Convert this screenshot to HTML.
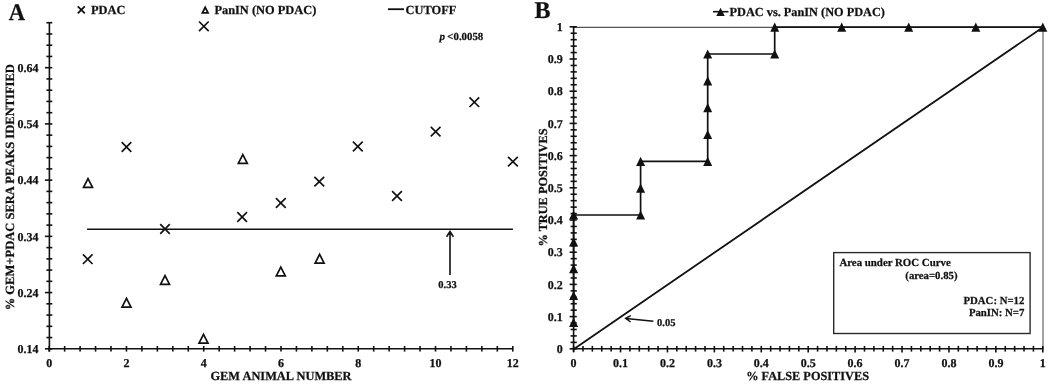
<!DOCTYPE html>
<html><head><meta charset="utf-8"><style>
html,body{margin:0;padding:0;background:#fff;}
body{width:1050px;height:386px;overflow:hidden;}
svg{display:block;will-change:transform;}
text{text-rendering:geometricPrecision;font-family:"Liberation Serif",serif;font-weight:bold;fill:#111;stroke:#111;stroke-width:0.25px;}
.big{font-size:24px;text-rendering:geometricPrecision;}
.tl{font-size:12px;}
.sm{font-size:10.5px;}
.bx{font-size:10.75px;}
.lg{font-size:12.4px;}
.at{font-size:12.4px;}
.yt{font-size:12.55px;}
.tt{font-size:12.3px;}
.pv{font-size:11px;}
</style></head><body>
<svg width="1050" height="386" viewBox="0 0 1050 386">
<rect width="1050" height="386" fill="#fff"/>
<text transform="translate(17,19.7) scale(0.94,1.0)" text-anchor="middle" class="big">A</text>
<text x="534.5" y="17.6" class="big">B</text>
<g stroke="#111" stroke-width="1.6" fill="none">
<line x1="49.400000000000006" y1="22.7" x2="49.400000000000006" y2="351.8"/>
<line x1="48.2" y1="348.8" x2="513.2600000000001" y2="348.8"/>
<line x1="44.9" y1="348.80" x2="52.3" y2="348.80" stroke-width="1.6"/>
<line x1="46.4" y1="337.56" x2="52.3" y2="337.56" stroke-width="1.6"/>
<line x1="46.4" y1="326.31" x2="52.3" y2="326.31" stroke-width="1.6"/>
<line x1="46.4" y1="315.07" x2="52.3" y2="315.07" stroke-width="1.6"/>
<line x1="46.4" y1="303.82" x2="52.3" y2="303.82" stroke-width="1.6"/>
<line x1="44.9" y1="292.58" x2="52.3" y2="292.58" stroke-width="1.6"/>
<line x1="46.4" y1="281.34" x2="52.3" y2="281.34" stroke-width="1.6"/>
<line x1="46.4" y1="270.09" x2="52.3" y2="270.09" stroke-width="1.6"/>
<line x1="46.4" y1="258.85" x2="52.3" y2="258.85" stroke-width="1.6"/>
<line x1="46.4" y1="247.60" x2="52.3" y2="247.60" stroke-width="1.6"/>
<line x1="44.9" y1="236.36" x2="52.3" y2="236.36" stroke-width="1.6"/>
<line x1="46.4" y1="225.12" x2="52.3" y2="225.12" stroke-width="1.6"/>
<line x1="46.4" y1="213.87" x2="52.3" y2="213.87" stroke-width="1.6"/>
<line x1="46.4" y1="202.63" x2="52.3" y2="202.63" stroke-width="1.6"/>
<line x1="46.4" y1="191.38" x2="52.3" y2="191.38" stroke-width="1.6"/>
<line x1="44.9" y1="180.14" x2="52.3" y2="180.14" stroke-width="1.6"/>
<line x1="46.4" y1="168.90" x2="52.3" y2="168.90" stroke-width="1.6"/>
<line x1="46.4" y1="157.65" x2="52.3" y2="157.65" stroke-width="1.6"/>
<line x1="46.4" y1="146.41" x2="52.3" y2="146.41" stroke-width="1.6"/>
<line x1="46.4" y1="135.16" x2="52.3" y2="135.16" stroke-width="1.6"/>
<line x1="44.9" y1="123.92" x2="52.3" y2="123.92" stroke-width="1.6"/>
<line x1="46.4" y1="112.68" x2="52.3" y2="112.68" stroke-width="1.6"/>
<line x1="46.4" y1="101.43" x2="52.3" y2="101.43" stroke-width="1.6"/>
<line x1="46.4" y1="90.19" x2="52.3" y2="90.19" stroke-width="1.6"/>
<line x1="46.4" y1="78.94" x2="52.3" y2="78.94" stroke-width="1.6"/>
<line x1="44.9" y1="67.70" x2="52.3" y2="67.70" stroke-width="1.6"/>
<line x1="46.4" y1="56.46" x2="52.3" y2="56.46" stroke-width="1.6"/>
<line x1="46.4" y1="45.21" x2="52.3" y2="45.21" stroke-width="1.6"/>
<line x1="46.4" y1="33.97" x2="52.3" y2="33.97" stroke-width="1.6"/>
<line x1="46.4" y1="22.72" x2="52.3" y2="22.72" stroke-width="1.6"/>
<line x1="49.20" y1="346.0" x2="49.20" y2="351.6" stroke-width="1.6"/>
<line x1="64.65" y1="346.0" x2="64.65" y2="351.6" stroke-width="1.6"/>
<line x1="80.10" y1="346.0" x2="80.10" y2="351.6" stroke-width="1.6"/>
<line x1="95.56" y1="346.0" x2="95.56" y2="351.6" stroke-width="1.6"/>
<line x1="111.01" y1="346.0" x2="111.01" y2="351.6" stroke-width="1.6"/>
<line x1="126.46" y1="346.0" x2="126.46" y2="351.6" stroke-width="1.6"/>
<line x1="141.91" y1="346.0" x2="141.91" y2="351.6" stroke-width="1.6"/>
<line x1="157.36" y1="346.0" x2="157.36" y2="351.6" stroke-width="1.6"/>
<line x1="172.82" y1="346.0" x2="172.82" y2="351.6" stroke-width="1.6"/>
<line x1="188.27" y1="346.0" x2="188.27" y2="351.6" stroke-width="1.6"/>
<line x1="203.72" y1="346.0" x2="203.72" y2="351.6" stroke-width="1.6"/>
<line x1="219.17" y1="346.0" x2="219.17" y2="351.6" stroke-width="1.6"/>
<line x1="234.62" y1="346.0" x2="234.62" y2="351.6" stroke-width="1.6"/>
<line x1="250.08" y1="346.0" x2="250.08" y2="351.6" stroke-width="1.6"/>
<line x1="265.53" y1="346.0" x2="265.53" y2="351.6" stroke-width="1.6"/>
<line x1="280.98" y1="346.0" x2="280.98" y2="351.6" stroke-width="1.6"/>
<line x1="296.43" y1="346.0" x2="296.43" y2="351.6" stroke-width="1.6"/>
<line x1="311.88" y1="346.0" x2="311.88" y2="351.6" stroke-width="1.6"/>
<line x1="327.34" y1="346.0" x2="327.34" y2="351.6" stroke-width="1.6"/>
<line x1="342.79" y1="346.0" x2="342.79" y2="351.6" stroke-width="1.6"/>
<line x1="358.24" y1="346.0" x2="358.24" y2="351.6" stroke-width="1.6"/>
<line x1="373.69" y1="346.0" x2="373.69" y2="351.6" stroke-width="1.6"/>
<line x1="389.14" y1="346.0" x2="389.14" y2="351.6" stroke-width="1.6"/>
<line x1="404.60" y1="346.0" x2="404.60" y2="351.6" stroke-width="1.6"/>
<line x1="420.05" y1="346.0" x2="420.05" y2="351.6" stroke-width="1.6"/>
<line x1="435.50" y1="346.0" x2="435.50" y2="351.6" stroke-width="1.6"/>
<line x1="450.95" y1="346.0" x2="450.95" y2="351.6" stroke-width="1.6"/>
<line x1="466.40" y1="346.0" x2="466.40" y2="351.6" stroke-width="1.6"/>
<line x1="481.86" y1="346.0" x2="481.86" y2="351.6" stroke-width="1.6"/>
<line x1="497.31" y1="346.0" x2="497.31" y2="351.6" stroke-width="1.6"/>
<line x1="512.76" y1="346.0" x2="512.76" y2="351.6" stroke-width="1.6"/>
</g>
<text x="38.4" y="353.0" class="tl" text-anchor="end">0.14</text>
<text x="38.4" y="296.8" class="tl" text-anchor="end">0.24</text>
<text x="38.4" y="240.6" class="tl" text-anchor="end">0.34</text>
<text x="38.4" y="184.3" class="tl" text-anchor="end">0.44</text>
<text x="38.4" y="128.1" class="tl" text-anchor="end">0.54</text>
<text x="38.4" y="71.9" class="tl" text-anchor="end">0.64</text>
<text x="49.2" y="367.1" class="tl" text-anchor="middle">0</text>
<text x="126.5" y="367.1" class="tl" text-anchor="middle">2</text>
<text x="203.7" y="367.1" class="tl" text-anchor="middle">4</text>
<text x="281.0" y="367.1" class="tl" text-anchor="middle">6</text>
<text x="358.2" y="367.1" class="tl" text-anchor="middle">8</text>
<text x="435.5" y="367.1" class="tl" text-anchor="middle">10</text>
<text x="512.8" y="367.1" class="tl" text-anchor="middle">12</text>
<text x="281" y="379.5" class="at" text-anchor="middle">GEM ANIMAL NUMBER</text>
<text transform="translate(13.5,187.2) rotate(-90)" class="yt" text-anchor="middle">% GEM+PDAC SERA PEAKS IDENTIFIED</text>
<path d="M77.8 6.4L84.8 13.4M84.8 6.4L77.8 13.4" stroke="#111" stroke-width="1.8" fill="none"/>
<text x="91" y="14.2" class="lg">PDAC</text>
<path d="M205.2 7.3L208.0 12.8L202.4 12.8Z" stroke="#111" stroke-width="1.8" fill="none" stroke-linejoin="miter"/>
<text x="214.4" y="14.2" class="lg">PanIN (NO PDAC)</text>
<line x1="388" y1="9.2" x2="404" y2="9.2" stroke="#111" stroke-width="1.8"/>
<text x="405.6" y="13.9" class="lg">CUTOFF</text>
<text x="439.6" y="40.4" class="pv" font-style="italic">p</text>
<text x="483.2" y="40.4" class="pv" style="font-size:10.8px" text-anchor="end">&lt;0.0058</text>
<line x1="87.1" y1="229.2" x2="512.9" y2="229.2" stroke="#111" stroke-width="1.6"/>
<path d="M450 275V231.5M446.6 236.8L450 231.5L453.4 236.8" stroke="#111" stroke-width="1.6" fill="none"/>
<text x="447.5" y="288" class="sm" text-anchor="middle">0.33</text>
<path d="M82.9 254.3L92.5 264.0M92.5 254.3L82.9 264.0" stroke="#111" stroke-width="1.65" fill="none"/>
<path d="M121.7 142.2L131.3 151.9M131.3 142.2L121.7 151.9" stroke="#111" stroke-width="1.65" fill="none"/>
<path d="M160.2 224.2L169.8 233.8M169.8 224.2L160.2 233.8" stroke="#111" stroke-width="1.65" fill="none"/>
<path d="M199.0 21.5L208.7 31.2M208.7 21.5L199.0 31.2" stroke="#111" stroke-width="1.65" fill="none"/>
<path d="M237.3 212.2L247.0 221.8M247.0 212.2L237.3 221.8" stroke="#111" stroke-width="1.65" fill="none"/>
<path d="M275.9 198.2L285.7 207.8M285.7 198.2L275.9 207.8" stroke="#111" stroke-width="1.65" fill="none"/>
<path d="M314.4 176.8L324.2 186.4M324.2 176.8L314.4 186.4" stroke="#111" stroke-width="1.65" fill="none"/>
<path d="M352.9 141.7L362.7 151.3M362.7 141.7L352.9 151.3" stroke="#111" stroke-width="1.65" fill="none"/>
<path d="M392.1 191.2L401.9 200.9M401.9 191.2L392.1 200.9" stroke="#111" stroke-width="1.65" fill="none"/>
<path d="M430.8 126.8L440.5 136.4M440.5 126.8L430.8 136.4" stroke="#111" stroke-width="1.65" fill="none"/>
<path d="M469.5 97.4L479.2 107.0M479.2 97.4L469.5 107.0" stroke="#111" stroke-width="1.65" fill="none"/>
<path d="M508.0 156.8L517.8 166.4M517.8 156.8L508.0 166.4" stroke="#111" stroke-width="1.65" fill="none"/>
<path d="M88.0 178.6L92.5 187.4L83.5 187.4Z" stroke="#111" stroke-width="1.7" fill="none" stroke-linejoin="miter"/>
<path d="M126.5 298.4L131.0 307.2L122.0 307.2Z" stroke="#111" stroke-width="1.7" fill="none" stroke-linejoin="miter"/>
<path d="M165.0 275.6L169.5 284.4L160.5 284.4Z" stroke="#111" stroke-width="1.7" fill="none" stroke-linejoin="miter"/>
<path d="M203.5 334.3L208.0 343.1L199.0 343.1Z" stroke="#111" stroke-width="1.7" fill="none" stroke-linejoin="miter"/>
<path d="M242.8 154.6L247.3 163.4L238.3 163.4Z" stroke="#111" stroke-width="1.7" fill="none" stroke-linejoin="miter"/>
<path d="M280.8 267.1L285.3 275.9L276.3 275.9Z" stroke="#111" stroke-width="1.7" fill="none" stroke-linejoin="miter"/>
<path d="M319.6 254.3L324.1 263.1L315.1 263.1Z" stroke="#111" stroke-width="1.7" fill="none" stroke-linejoin="miter"/>
<line x1="573.6" y1="27.3" x2="1043.5" y2="27.3" stroke="#555" stroke-width="1.3"/>
<line x1="1043" y1="27.3" x2="1043" y2="348.8" stroke="#999" stroke-width="1.8"/>
<g stroke="#111" stroke-width="1.6" fill="none">
<line x1="573.6" y1="26.5" x2="573.6" y2="351.8"/>
<line x1="572.6" y1="348.8" x2="1043.3" y2="348.8"/>
<line x1="569.6" y1="348.80" x2="576.8" y2="348.80" stroke-width="1.6"/>
<line x1="573.60" y1="345.9" x2="573.60" y2="352.4" stroke-width="1.6"/>
<line x1="570.6" y1="342.36" x2="576.8" y2="342.36" stroke-width="1.6"/>
<line x1="582.98" y1="345.9" x2="582.98" y2="351.6" stroke-width="1.6"/>
<line x1="570.6" y1="335.92" x2="576.8" y2="335.92" stroke-width="1.6"/>
<line x1="592.37" y1="345.9" x2="592.37" y2="351.6" stroke-width="1.6"/>
<line x1="570.6" y1="329.48" x2="576.8" y2="329.48" stroke-width="1.6"/>
<line x1="601.75" y1="345.9" x2="601.75" y2="351.6" stroke-width="1.6"/>
<line x1="570.6" y1="323.04" x2="576.8" y2="323.04" stroke-width="1.6"/>
<line x1="611.14" y1="345.9" x2="611.14" y2="351.6" stroke-width="1.6"/>
<line x1="569.6" y1="316.60" x2="576.8" y2="316.60" stroke-width="1.6"/>
<line x1="620.52" y1="345.9" x2="620.52" y2="352.4" stroke-width="1.6"/>
<line x1="570.6" y1="310.16" x2="576.8" y2="310.16" stroke-width="1.6"/>
<line x1="629.90" y1="345.9" x2="629.90" y2="351.6" stroke-width="1.6"/>
<line x1="570.6" y1="303.72" x2="576.8" y2="303.72" stroke-width="1.6"/>
<line x1="639.29" y1="345.9" x2="639.29" y2="351.6" stroke-width="1.6"/>
<line x1="570.6" y1="297.28" x2="576.8" y2="297.28" stroke-width="1.6"/>
<line x1="648.67" y1="345.9" x2="648.67" y2="351.6" stroke-width="1.6"/>
<line x1="570.6" y1="290.84" x2="576.8" y2="290.84" stroke-width="1.6"/>
<line x1="658.06" y1="345.9" x2="658.06" y2="351.6" stroke-width="1.6"/>
<line x1="569.6" y1="284.40" x2="576.8" y2="284.40" stroke-width="1.6"/>
<line x1="667.44" y1="345.9" x2="667.44" y2="352.4" stroke-width="1.6"/>
<line x1="570.6" y1="277.96" x2="576.8" y2="277.96" stroke-width="1.6"/>
<line x1="676.82" y1="345.9" x2="676.82" y2="351.6" stroke-width="1.6"/>
<line x1="570.6" y1="271.52" x2="576.8" y2="271.52" stroke-width="1.6"/>
<line x1="686.21" y1="345.9" x2="686.21" y2="351.6" stroke-width="1.6"/>
<line x1="570.6" y1="265.08" x2="576.8" y2="265.08" stroke-width="1.6"/>
<line x1="695.59" y1="345.9" x2="695.59" y2="351.6" stroke-width="1.6"/>
<line x1="570.6" y1="258.64" x2="576.8" y2="258.64" stroke-width="1.6"/>
<line x1="704.98" y1="345.9" x2="704.98" y2="351.6" stroke-width="1.6"/>
<line x1="569.6" y1="252.20" x2="576.8" y2="252.20" stroke-width="1.6"/>
<line x1="714.36" y1="345.9" x2="714.36" y2="352.4" stroke-width="1.6"/>
<line x1="570.6" y1="245.76" x2="576.8" y2="245.76" stroke-width="1.6"/>
<line x1="723.74" y1="345.9" x2="723.74" y2="351.6" stroke-width="1.6"/>
<line x1="570.6" y1="239.32" x2="576.8" y2="239.32" stroke-width="1.6"/>
<line x1="733.13" y1="345.9" x2="733.13" y2="351.6" stroke-width="1.6"/>
<line x1="570.6" y1="232.88" x2="576.8" y2="232.88" stroke-width="1.6"/>
<line x1="742.51" y1="345.9" x2="742.51" y2="351.6" stroke-width="1.6"/>
<line x1="570.6" y1="226.44" x2="576.8" y2="226.44" stroke-width="1.6"/>
<line x1="751.90" y1="345.9" x2="751.90" y2="351.6" stroke-width="1.6"/>
<line x1="569.6" y1="220.00" x2="576.8" y2="220.00" stroke-width="1.6"/>
<line x1="761.28" y1="345.9" x2="761.28" y2="352.4" stroke-width="1.6"/>
<line x1="570.6" y1="213.56" x2="576.8" y2="213.56" stroke-width="1.6"/>
<line x1="770.66" y1="345.9" x2="770.66" y2="351.6" stroke-width="1.6"/>
<line x1="570.6" y1="207.12" x2="576.8" y2="207.12" stroke-width="1.6"/>
<line x1="780.05" y1="345.9" x2="780.05" y2="351.6" stroke-width="1.6"/>
<line x1="570.6" y1="200.68" x2="576.8" y2="200.68" stroke-width="1.6"/>
<line x1="789.43" y1="345.9" x2="789.43" y2="351.6" stroke-width="1.6"/>
<line x1="570.6" y1="194.24" x2="576.8" y2="194.24" stroke-width="1.6"/>
<line x1="798.82" y1="345.9" x2="798.82" y2="351.6" stroke-width="1.6"/>
<line x1="569.6" y1="187.80" x2="576.8" y2="187.80" stroke-width="1.6"/>
<line x1="808.20" y1="345.9" x2="808.20" y2="352.4" stroke-width="1.6"/>
<line x1="570.6" y1="181.36" x2="576.8" y2="181.36" stroke-width="1.6"/>
<line x1="817.58" y1="345.9" x2="817.58" y2="351.6" stroke-width="1.6"/>
<line x1="570.6" y1="174.92" x2="576.8" y2="174.92" stroke-width="1.6"/>
<line x1="826.97" y1="345.9" x2="826.97" y2="351.6" stroke-width="1.6"/>
<line x1="570.6" y1="168.48" x2="576.8" y2="168.48" stroke-width="1.6"/>
<line x1="836.35" y1="345.9" x2="836.35" y2="351.6" stroke-width="1.6"/>
<line x1="570.6" y1="162.04" x2="576.8" y2="162.04" stroke-width="1.6"/>
<line x1="845.74" y1="345.9" x2="845.74" y2="351.6" stroke-width="1.6"/>
<line x1="569.6" y1="155.60" x2="576.8" y2="155.60" stroke-width="1.6"/>
<line x1="855.12" y1="345.9" x2="855.12" y2="352.4" stroke-width="1.6"/>
<line x1="570.6" y1="149.16" x2="576.8" y2="149.16" stroke-width="1.6"/>
<line x1="864.50" y1="345.9" x2="864.50" y2="351.6" stroke-width="1.6"/>
<line x1="570.6" y1="142.72" x2="576.8" y2="142.72" stroke-width="1.6"/>
<line x1="873.89" y1="345.9" x2="873.89" y2="351.6" stroke-width="1.6"/>
<line x1="570.6" y1="136.28" x2="576.8" y2="136.28" stroke-width="1.6"/>
<line x1="883.27" y1="345.9" x2="883.27" y2="351.6" stroke-width="1.6"/>
<line x1="570.6" y1="129.84" x2="576.8" y2="129.84" stroke-width="1.6"/>
<line x1="892.66" y1="345.9" x2="892.66" y2="351.6" stroke-width="1.6"/>
<line x1="569.6" y1="123.40" x2="576.8" y2="123.40" stroke-width="1.6"/>
<line x1="902.04" y1="345.9" x2="902.04" y2="352.4" stroke-width="1.6"/>
<line x1="570.6" y1="116.96" x2="576.8" y2="116.96" stroke-width="1.6"/>
<line x1="911.42" y1="345.9" x2="911.42" y2="351.6" stroke-width="1.6"/>
<line x1="570.6" y1="110.52" x2="576.8" y2="110.52" stroke-width="1.6"/>
<line x1="920.81" y1="345.9" x2="920.81" y2="351.6" stroke-width="1.6"/>
<line x1="570.6" y1="104.08" x2="576.8" y2="104.08" stroke-width="1.6"/>
<line x1="930.19" y1="345.9" x2="930.19" y2="351.6" stroke-width="1.6"/>
<line x1="570.6" y1="97.64" x2="576.8" y2="97.64" stroke-width="1.6"/>
<line x1="939.58" y1="345.9" x2="939.58" y2="351.6" stroke-width="1.6"/>
<line x1="569.6" y1="91.20" x2="576.8" y2="91.20" stroke-width="1.6"/>
<line x1="948.96" y1="345.9" x2="948.96" y2="352.4" stroke-width="1.6"/>
<line x1="570.6" y1="84.76" x2="576.8" y2="84.76" stroke-width="1.6"/>
<line x1="958.34" y1="345.9" x2="958.34" y2="351.6" stroke-width="1.6"/>
<line x1="570.6" y1="78.32" x2="576.8" y2="78.32" stroke-width="1.6"/>
<line x1="967.73" y1="345.9" x2="967.73" y2="351.6" stroke-width="1.6"/>
<line x1="570.6" y1="71.88" x2="576.8" y2="71.88" stroke-width="1.6"/>
<line x1="977.11" y1="345.9" x2="977.11" y2="351.6" stroke-width="1.6"/>
<line x1="570.6" y1="65.44" x2="576.8" y2="65.44" stroke-width="1.6"/>
<line x1="986.50" y1="345.9" x2="986.50" y2="351.6" stroke-width="1.6"/>
<line x1="569.6" y1="59.00" x2="576.8" y2="59.00" stroke-width="1.6"/>
<line x1="995.88" y1="345.9" x2="995.88" y2="352.4" stroke-width="1.6"/>
<line x1="570.6" y1="52.56" x2="576.8" y2="52.56" stroke-width="1.6"/>
<line x1="1005.26" y1="345.9" x2="1005.26" y2="351.6" stroke-width="1.6"/>
<line x1="570.6" y1="46.12" x2="576.8" y2="46.12" stroke-width="1.6"/>
<line x1="1014.65" y1="345.9" x2="1014.65" y2="351.6" stroke-width="1.6"/>
<line x1="570.6" y1="39.68" x2="576.8" y2="39.68" stroke-width="1.6"/>
<line x1="1024.03" y1="345.9" x2="1024.03" y2="351.6" stroke-width="1.6"/>
<line x1="570.6" y1="33.24" x2="576.8" y2="33.24" stroke-width="1.6"/>
<line x1="1033.42" y1="345.9" x2="1033.42" y2="351.6" stroke-width="1.6"/>
<line x1="569.6" y1="26.80" x2="576.8" y2="26.80" stroke-width="1.6"/>
<line x1="1042.80" y1="345.9" x2="1042.80" y2="352.4" stroke-width="1.6"/>
</g>
<text x="562.8" y="353.0" class="tl" text-anchor="end">0</text>
<text x="573.6" y="367.4" class="tl" text-anchor="middle">0</text>
<text x="562.8" y="320.8" class="tl" text-anchor="end">0.1</text>
<text x="620.5" y="367.4" class="tl" text-anchor="middle">0.1</text>
<text x="562.8" y="288.6" class="tl" text-anchor="end">0.2</text>
<text x="667.4" y="367.4" class="tl" text-anchor="middle">0.2</text>
<text x="562.8" y="256.4" class="tl" text-anchor="end">0.3</text>
<text x="714.4" y="367.4" class="tl" text-anchor="middle">0.3</text>
<text x="562.8" y="224.2" class="tl" text-anchor="end">0.4</text>
<text x="761.3" y="367.4" class="tl" text-anchor="middle">0.4</text>
<text x="562.8" y="192.0" class="tl" text-anchor="end">0.5</text>
<text x="808.2" y="367.4" class="tl" text-anchor="middle">0.5</text>
<text x="562.8" y="159.8" class="tl" text-anchor="end">0.6</text>
<text x="855.1" y="367.4" class="tl" text-anchor="middle">0.6</text>
<text x="562.8" y="127.6" class="tl" text-anchor="end">0.7</text>
<text x="902.0" y="367.4" class="tl" text-anchor="middle">0.7</text>
<text x="562.8" y="95.4" class="tl" text-anchor="end">0.8</text>
<text x="949.0" y="367.4" class="tl" text-anchor="middle">0.8</text>
<text x="562.8" y="63.2" class="tl" text-anchor="end">0.9</text>
<text x="995.9" y="367.4" class="tl" text-anchor="middle">0.9</text>
<text x="562.8" y="31.0" class="tl" text-anchor="end">1</text>
<text x="1042.8" y="367.4" class="tl" text-anchor="middle">1</text>
<text x="807.6" y="379.6" class="at" style="font-size:12.3px" text-anchor="middle">% FALSE POSITIVES</text>
<text transform="translate(547,187.5) rotate(-90)" class="tt" text-anchor="middle">% TRUE POSITIVES</text>
<line x1="573.6" y1="349.2" x2="1043" y2="27.2" stroke="#111" stroke-width="1.8"/>
<path d="M653.4 321.2L626 318.5M630.8 315.6L625.6 318.4L630.6 322" stroke="#111" stroke-width="1.45" fill="none"/>
<text x="657" y="325.9" class="sm">0.05</text>
<path d="M573.6 322.4L573.6 295.5L573.6 268.7L573.6 241.9L573.6 215.0L640.6 215.0L640.6 188.2L640.6 161.4L707.7 161.4L707.7 134.5L707.7 107.7L707.7 80.9L707.7 54.0L774.7 54.0L774.7 27.2L841.7 27.2L908.7 27.2L975.8 27.2L1042.8 27.2" stroke="#111" stroke-width="1.7" fill="none"/>
<path d="M573.6 317.8L578.1 327.0L569.1 327.0Z" fill="#111"/>
<path d="M573.6 290.9L578.1 300.1L569.1 300.1Z" fill="#111"/>
<path d="M573.6 264.1L578.1 273.3L569.1 273.3Z" fill="#111"/>
<path d="M573.6 237.3L578.1 246.5L569.1 246.5Z" fill="#111"/>
<path d="M573.6 210.4L578.1 219.6L569.1 219.6Z" fill="#111"/>
<path d="M640.6 210.4L645.1 219.6L636.1 219.6Z" fill="#111"/>
<path d="M640.6 183.6L645.1 192.8L636.1 192.8Z" fill="#111"/>
<path d="M640.6 156.8L645.1 166.0L636.1 166.0Z" fill="#111"/>
<path d="M707.7 156.8L712.2 166.0L703.2 166.0Z" fill="#111"/>
<path d="M707.7 129.9L712.2 139.1L703.2 139.1Z" fill="#111"/>
<path d="M707.7 103.1L712.2 112.3L703.2 112.3Z" fill="#111"/>
<path d="M707.7 76.3L712.2 85.5L703.2 85.5Z" fill="#111"/>
<path d="M707.7 49.4L712.2 58.6L703.2 58.6Z" fill="#111"/>
<path d="M774.7 49.4L779.2 58.6L770.2 58.6Z" fill="#111"/>
<path d="M774.7 22.6L779.2 31.8L770.2 31.8Z" fill="#111"/>
<path d="M841.7 22.6L846.2 31.8L837.2 31.8Z" fill="#111"/>
<path d="M908.7 22.6L913.2 31.8L904.2 31.8Z" fill="#111"/>
<path d="M975.8 22.6L980.3 31.8L971.3 31.8Z" fill="#111"/>
<path d="M1042.8 22.6L1047.3 31.8L1038.3 31.8Z" fill="#111"/>
<line x1="713" y1="11.7" x2="728.5" y2="11.7" stroke="#111" stroke-width="1.6"/>
<path d="M720.5 7.8L724.7 16.0L716.3 16.0Z" fill="#111"/>
<text x="729.5" y="15.5" class="at" style="font-size:12.3px">PDAC vs. PanIN (NO PDAC)</text>
<rect x="833.7" y="252.6" width="196.4" height="80.9" stroke="#2a2a2a" stroke-width="1.4" fill="none"/>
<text x="839.4" y="266.4" class="bx" style="font-size:10.85px">Area under ROC Curve</text>
<text x="957.5" y="278.6" class="bx" text-anchor="end">(area=0.85)</text>
<text x="1024.3" y="304.2" class="bx" text-anchor="end">PDAC: N=12</text>
<text x="1024.3" y="316.4" class="bx" text-anchor="end">PanIN: N=7</text>
</svg>
</body></html>
